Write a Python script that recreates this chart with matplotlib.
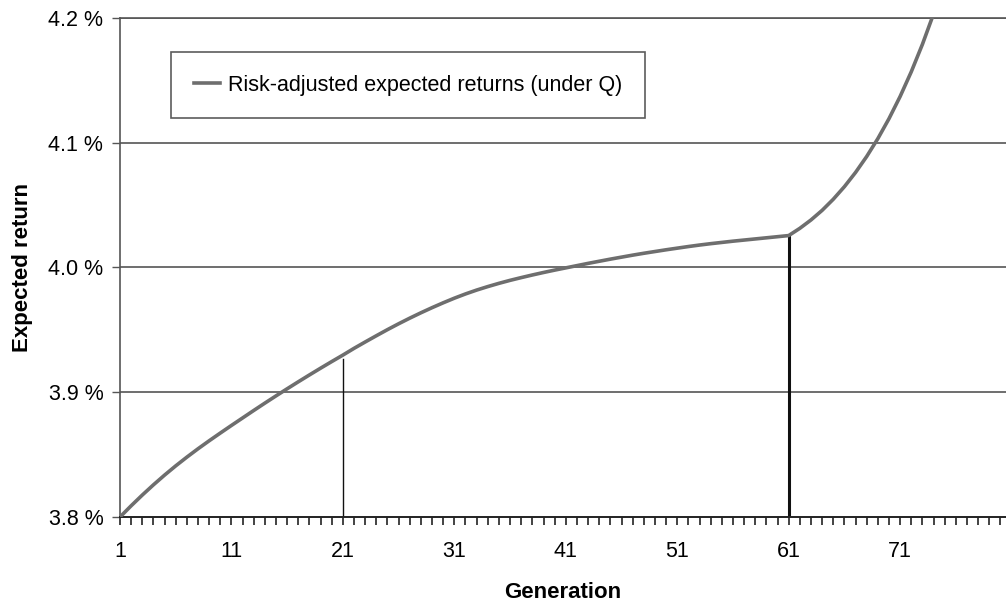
import matplotlib
matplotlib.use("Agg")
import matplotlib.pyplot as plt
from matplotlib.ticker import FixedLocator, MultipleLocator, FuncFormatter

plt.rcParams['font.family'] = ['Liberation Sans', 'DejaVu Sans']

generations = list(range(1, 75))
returns_q = [
    3.8000, 3.8090, 3.8176, 3.8258, 3.8336, 3.8410, 3.8480, 3.8547, 3.8611, 3.8673,
    3.8734, 3.8794, 3.8854, 3.8913, 3.8971, 3.9028, 3.9084, 3.9139, 3.9193, 3.9246,
    3.9298, 3.9352, 3.9403, 3.9453, 3.9502, 3.9549, 3.9594, 3.9637, 3.9678, 3.9717,
    3.9754, 3.9788, 3.9819, 3.9847, 3.9873, 3.9897, 3.9919, 3.9940, 3.9960, 3.9979,
    3.9997, 4.0015, 4.0033, 4.0050, 4.0067, 4.0083, 4.0099, 4.0114, 4.0128, 4.0142,
    4.0155, 4.0168, 4.0180, 4.0191, 4.0201, 4.0211, 4.0220, 4.0229, 4.0238, 4.0247,
    4.0256, 4.0314, 4.0381, 4.0458, 4.0547, 4.0648, 4.0762, 4.0890, 4.1033, 4.1193,
    4.1371, 4.1569, 4.1789, 4.2033,
]
marker_gens = [21, 61]
marker_tops = [3.927, 4.0256]
marker_widths = [1.0, 2.2]
xtick_labels = [1, 11, 21, 31, 41, 51, 61, 71]
ytick_vals = [3.8, 3.9, 4.0, 4.1, 4.2]
legend_label = "Risk-adjusted expected returns (under Q)"

fig = plt.figure(figsize=(10.06, 6.02), dpi=100)
ax = fig.add_axes([0.1193, 0.1412, 0.8807, 0.8289])

for y in ytick_vals[1:]:
    ax.axhline(y, color='#555555', lw=1.2, zorder=1)

ax.plot(generations, returns_q, color='#6e6e6e', lw=2.6, label=legend_label,
        zorder=3, solid_joinstyle='round')

for g, top, w in zip(marker_gens, marker_tops, marker_widths):
    ax.plot([g, g], [3.8, top], color='#111111', lw=w, zorder=2)

ax.set_xlim(1, 80.5)
ax.set_ylim(3.8, 4.2)

ax.xaxis.set_major_locator(FixedLocator(xtick_labels))
ax.xaxis.set_minor_locator(MultipleLocator(1))
ax.yaxis.set_major_locator(FixedLocator(ytick_vals))
ax.yaxis.set_major_formatter(FuncFormatter(lambda v, p: f"{v:.1f} %"))

ax.tick_params(axis='x', which='both', direction='out', length=6, width=1.2, color='#222222',
               labelsize=15.5, pad=11)
ax.tick_params(axis='y', which='major', direction='out', length=6, width=1.0, color='#555555',
               labelsize=15.5, pad=6)

ax.spines['right'].set_visible(False)
ax.spines['top'].set_color('#555555')
ax.spines['top'].set_linewidth(1.2)
ax.spines['left'].set_color('#555555')
ax.spines['left'].set_linewidth(1.2)
ax.spines['bottom'].set_color('#222222')
ax.spines['bottom'].set_linewidth(1.4)

ax.set_xlabel("Generation", fontsize=16, fontweight='bold', labelpad=15)
ax.set_ylabel("Expected return", fontsize=16, fontweight='bold', labelpad=11)

leg = ax.legend(loc='upper left', bbox_to_anchor=(0.058, 0.932), fontsize=15.5,
                frameon=True, fancybox=False, handlelength=1.2, handletextpad=0.4,
                borderpad=1.05, borderaxespad=0)
leg.get_frame().set_edgecolor('#333333')
leg.get_frame().set_linewidth(1.2)

fig.savefig("out.png", dpi=100)
